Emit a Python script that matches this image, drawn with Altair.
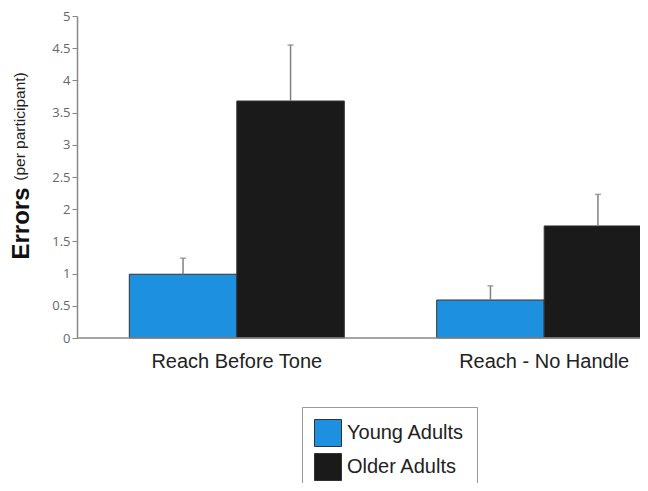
import altair as alt
import pandas as pd

categories = ["Reach Before Tone", "Reach - No Handle"]
groups = ["Young Adults", "Older Adults"]
young_means = [0.99, 0.59]
older_means = [3.68, 1.74]
young_upper = [1.24, 0.81]
older_upper = [4.55, 2.23]
y_ticks = [0, 0.5, 1, 1.5, 2, 2.5, 3, 3.5, 4, 4.5, 5]
title_main = ["Errors"]
title_sub = ["(per participant)"]
colors = ["#1e90e0", "#1a1a1a"]

rows = []
for i, c in enumerate(categories):
    rows.append({"category": c, "group": groups[0], "mean": young_means[i], "upper": young_upper[i]})
    rows.append({"category": c, "group": groups[1], "mean": older_means[i], "upper": older_upper[i]})
df = pd.DataFrame(rows)

W = 563
H = 322

yscale = alt.Scale(domain=[0, 5], nice=False, zero=True)
yaxis = alt.Axis(
    title=None, values=y_ticks, format="~g", grid=False, labelOverlap=False,
    domainColor="#888", domainWidth=1.5, tickColor="#888", tickSize=5,
    labelFontSize=13, labelFont="Open Sans", labelColor="#666", labelPadding=2,
)

base = alt.Chart(df).encode(
    x=alt.X(
        "category:N",
        sort=categories,
        scale=alt.Scale(range=[52.3, 574.7], paddingInner=0.3006, paddingOuter=0),
        axis=alt.Axis(
            title=None, domain=False, ticks=False, labelAngle=0,
            labelFontSize=20, labelFont="Liberation Sans", labelColor="#222",
            labelPadding=13,
        ),
    ),
    xOffset=alt.XOffset("group:N", sort=groups, scale=alt.Scale(paddingInner=0, paddingOuter=0)),
)

bars = base.mark_bar(stroke="#333", strokeWidth=1, opacity=1).encode(
    y=alt.Y("mean:Q", scale=yscale, axis=yaxis),
    color=alt.Color(
        "group:N",
        sort=groups,
        scale=alt.Scale(domain=groups, range=colors),
        legend=alt.Legend(
            title=None, orient="none", legendX=225, legendY=391,
            strokeColor="#999", fillColor="white", padding=12,
            symbolType="square", symbolSize=729, symbolStrokeColor="#333",
            symbolStrokeWidth=1, symbolOpacity=1,
            labelFontSize=20, labelFont="Liberation Sans", labelColor="#222",
            rowPadding=2, labelOffset=5,
        ),
    ),
)

errs = base.mark_rule(color="#808080", strokeWidth=1.5).encode(
    y=alt.Y("mean:Q", scale=yscale, axis=yaxis), y2="upper:Q"
)
caps = base.mark_tick(color="#808080", thickness=1.5, size=6, orient="horizontal").encode(
    y=alt.Y("upper:Q", scale=yscale, axis=yaxis)
)

baseline = alt.Chart(pd.DataFrame({"v": [0]})).mark_rule(color="#888", strokeWidth=1.5).encode(
    y=alt.Y("v:Q", scale=yscale, axis=yaxis), x=alt.value(0), x2=alt.value(W)
)

t1 = alt.Chart(pd.DataFrame({"t": title_main})).mark_text(
    angle=270, font="Liberation Sans", fontWeight="bold", fontSize=24,
    align="center", baseline="alphabetic", color="#111",
).encode(text="t:N", x=alt.value(-48), y=alt.value(207.5))

t2 = alt.Chart(pd.DataFrame({"t": title_sub})).mark_text(
    angle=270, font="Liberation Sans", fontSize=15.5,
    align="center", baseline="alphabetic", color="#222",
).encode(text="t:N", x=alt.value(-52), y=alt.value(110.5))

chart = alt.layer(bars, errs, caps, baseline, t1, t2).properties(
    width=W, height=H,
    autosize=alt.AutoSizeParams(type="none"),
    padding={"left": 69, "top": 8, "right": 0, "bottom": 145},
).configure_view(stroke=None)

chart.save("out.html", embed_options={"renderer": "svg", "actions": False})
